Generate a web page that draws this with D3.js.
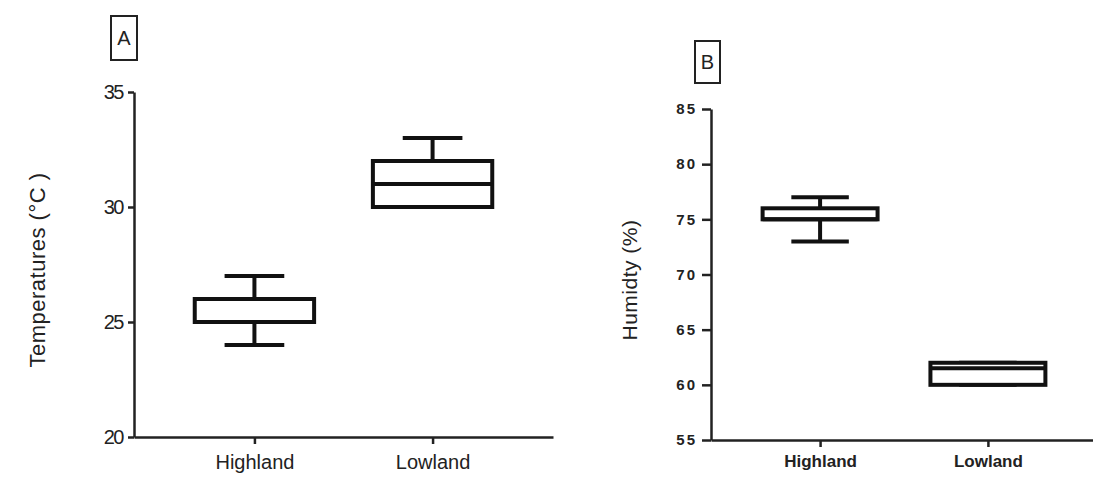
<!DOCTYPE html>
<html>
<head>
<meta charset="utf-8">
<script src="https://cdn.jsdelivr.net/npm/d3@7"></script>
<style>
  body { margin: 0; background: #fff; }
</style>
</head>
<body>
<svg id="chart"></svg>
<script>
const categories = ["Highland", "Lowland"];

// panel A: temperature box plots
const tempMin = [24, 30];
const tempQ1 = [25, 30];
const tempMedian = [25, 31];
const tempQ3 = [26, 32];
const tempMax = [27, 33];
const tempTicks = [20, 25, 30, 35];

// panel B: humidity box plots
const humMin = [73, 60];
const humQ1 = [75, 60];
const humMedian = [75, 61.5];
const humQ3 = [76, 62];
const humMax = [77, 62];
const humTicks = [55, 60, 65, 70, 75, 80, 85];

const svg = d3.select("#chart")
    .attr("width", 1093)
    .attr("height", 477);

function drawPanel(p) {
    const g = svg.append("g");

    const y = d3.scaleLinear().domain(p.yDomain).range([p.bottom, p.top]);
    const x = d3.scalePoint().domain(categories).range([p.left, p.right]).padding(p.pad);
    const step = x.step();
    const boxW = step * p.boxFrac;
    const capW = boxW / 2;

    // y axis
    const yAxis = g.append("g")
        .attr("transform", `translate(${p.left},0)`)
        .call(d3.axisLeft(y).tickValues(p.ticks).tickSize(p.tickSize).tickSizeOuter(0).tickPadding(p.tickPad));
    yAxis.select(".domain").attr("stroke", "#222").attr("stroke-width", 2.5);
    yAxis.selectAll(".tick line").attr("stroke", "#222").attr("stroke-width", 2.5);
    yAxis.selectAll(".tick text")
        .attr("fill", "#222")
        .style("font-family", p.tickFont)
        .style("font-size", p.tickFontSize)
        .style("font-weight", p.tickWeight)
        .style("letter-spacing", p.tickSpacing);

    // x axis
    const xAxis = g.append("g")
        .attr("transform", `translate(0,${p.bottom})`)
        .call(d3.axisBottom(x).tickSize(7).tickSizeOuter(0).tickPadding(p.xPad));
    xAxis.select(".domain").attr("stroke", "#222").attr("stroke-width", 2.5);
    xAxis.selectAll(".tick line").attr("stroke", "#222").attr("stroke-width", 2.5);
    xAxis.selectAll(".tick text")
        .attr("fill", "#222")
        .style("font-family", p.xFont)
        .style("font-size", p.xFontSize)
        .style("font-weight", p.tickWeight);

    // boxes
    const boxes = g.selectAll(".box")
        .data(categories.map((c, i) => ({
            c, min: p.min[i], q1: p.q1[i], med: p.med[i], q3: p.q3[i], max: p.max[i]
        })))
        .enter().append("g")
        .attr("class", "box")
        .attr("stroke", "#111")
        .attr("stroke-width", p.sw)
        .attr("fill", "none");

    boxes.append("line")
        .attr("x1", d => x(d.c)).attr("x2", d => x(d.c))
        .attr("y1", d => y(d.q3)).attr("y2", d => y(d.max));
    boxes.append("line")
        .attr("x1", d => x(d.c)).attr("x2", d => x(d.c))
        .attr("y1", d => y(d.q1)).attr("y2", d => y(d.min));
    boxes.append("line")
        .attr("x1", d => x(d.c) - capW / 2).attr("x2", d => x(d.c) + capW / 2)
        .attr("y1", d => y(d.max)).attr("y2", d => y(d.max));
    boxes.append("line")
        .attr("x1", d => x(d.c) - capW / 2).attr("x2", d => x(d.c) + capW / 2)
        .attr("y1", d => y(d.min)).attr("y2", d => y(d.min));
    boxes.append("rect")
        .attr("x", d => x(d.c) - boxW / 2)
        .attr("width", boxW)
        .attr("y", d => y(d.q3))
        .attr("height", d => y(d.q1) - y(d.q3))
        .attr("fill", "#fff");
    boxes.append("line")
        .attr("x1", d => x(d.c) - boxW / 2).attr("x2", d => x(d.c) + boxW / 2)
        .attr("y1", d => y(d.med)).attr("y2", d => y(d.med));

    // y axis title
    g.append("text")
        .attr("transform", `translate(${p.titleX},${p.titleY}) rotate(-90)`)
        .attr("text-anchor", "middle")
        .attr("fill", "#222")
        .style("font-family", "Liberation Sans, Arial, sans-serif")
        .style("font-size", p.titleSize)
        .style("letter-spacing", "0.5px")
        .text(p.title);

    // panel letter in a box
    g.append("rect")
        .attr("x", p.tag[0]).attr("y", p.tag[1])
        .attr("width", p.tag[2]).attr("height", p.tag[3])
        .attr("fill", "none").attr("stroke", "#222").attr("stroke-width", 2);
    g.append("text")
        .attr("x", p.tag[0] + p.tag[2] / 2)
        .attr("y", p.tag[1] + p.tag[3] / 2 + 7)
        .attr("text-anchor", "middle")
        .attr("fill", "#222")
        .style("font-family", "Liberation Sans, Arial, sans-serif")
        .style("font-size", "20px")
        .text(p.letter);
}

drawPanel({
    yDomain: [20, 35], top: 92, bottom: 437, left: 134, right: 553, pad: 0.676, boxFrac: 0.67,
    ticks: tempTicks, tickSize: 6, tickPad: 5,
    tickFont: "Liberation Sans, Arial, sans-serif", tickFontSize: "20px",
    tickWeight: "normal", tickSpacing: "-1.5px",
    xFont: "Liberation Sans, Arial, sans-serif", xFontSize: "20px", xPad: 11,
    min: tempMin, q1: tempQ1, med: tempMedian, q3: tempQ3, max: tempMax, sw: 4,
    title: "Temperatures (°C )", titleX: 45, titleY: 270, titleSize: "22px",
    tag: [111, 16, 26, 44], letter: "A"
});

drawPanel({
    yDomain: [55, 85], top: 109, bottom: 440, left: 711, right: 1097, pad: 0.65, boxFrac: 0.685,
    ticks: humTicks, tickSize: 9, tickPad: 5,
    tickFont: "Liberation Sans, Arial, sans-serif", tickFontSize: "15px",
    tickWeight: "bold", tickSpacing: "2px",
    xFont: "Liberation Sans, Arial, sans-serif", xFontSize: "17px", xPad: 8,
    min: humMin, q1: humQ1, med: humMedian, q3: humQ3, max: humMax, sw: 4,
    title: "Humidty (%)", titleX: 637, titleY: 280, titleSize: "21px",
    tag: [695, 41, 25, 42], letter: "B"
});
</script>
</body>
</html>
